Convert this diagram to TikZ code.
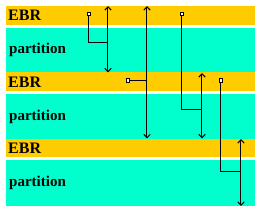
\documentclass[tikz,border=0pt]{standalone}
\usepackage{fontspec}
\setmainfont{Liberation Serif}
\usetikzlibrary{arrows.meta}
\definecolor{ebrc}{HTML}{FFCC00}
\definecolor{partc}{HTML}{00FFCC}
\tikzset{
  ebrband/.style={fill=ebrc,draw=none},
  partband/.style={fill=partc,draw=none},
  ebrtext/.style={anchor=base west,inner sep=0pt,font=\fontsize{16}{16}\selectfont\bfseries},
  parttext/.style={anchor=base west,inner sep=0pt,font=\fontsize{15}{15}\selectfont\bfseries},
  sq/.style={draw=black,fill=white,minimum size=3.5pt,inner sep=0pt,line width=0.9pt},
  link/.style={draw=black,line width=1pt},
  dbl/.style={draw=black,line width=1pt,{Straight Barb[length=3.5pt,width=6.5pt]}-{Straight Barb[length=3.5pt,width=6.5pt]}},
}
\begin{document}
\begin{tikzpicture}[x=1pt,y=-1pt]
\useasboundingbox (0,0) rectangle (266,213);
% bands
\fill[ebrband] (6,6) rectangle (255,25);
\fill[partband] (6,28) rectangle (255,72.5);
\fill[ebrband] (6,72.5) rectangle (255,91);
\fill[partband] (6,94) rectangle (255,139);
\fill[ebrband] (6,139) rectangle (255,157.5);
\fill[partband] (6,160.5) rectangle (255,206);
% labels
\node[ebrtext] (e1) at (8,20.7) {EBR};
\node[parttext] (p1) at (9,53.5) {partition};
\node[ebrtext] (e2) at (8,87.3) {EBR};
\node[parttext] (p2) at (9,120.3) {partition};
\node[ebrtext] (e3) at (8,153.7) {EBR};
\node[parttext] (p3) at (9,187) {partition};
% arrow ends
\coordinate (a1t) at (108,6);   \coordinate (a1b) at (108,72.5);
\coordinate (a2t) at (147,6);   \coordinate (a2b) at (147,138.5);
\coordinate (a3t) at (202,73);  \coordinate (a3b) at (202,138.5);
\coordinate (a4t) at (241,139); \coordinate (a4b) at (241,206);
\draw[dbl] (a1t) -- (a1b);
\draw[dbl] (a2t) -- (a2b);
\draw[dbl] (a3t) -- (a3b);
\draw[dbl] (a4t) -- (a4b);
% junction points
\coordinate (j1) at (108,43);
\coordinate (j2) at (147,80.5);
\coordinate (j3) at (202,110);
\coordinate (j4) at (241,172);
% squares
\node[sq] (s1) at (89,14) {};
\node[sq] (s2) at (128,80.5) {};
\node[sq] (s3) at (182,14) {};
\node[sq] (s4) at (221,80.5) {};
\draw[link] (s1.south) |- (j1);
\draw[link] (s2.east) -- (j2);
\draw[link] (s3.south) |- (j3);
\draw[link] (s4.south) |- (j4);
\end{tikzpicture}
\end{document}
